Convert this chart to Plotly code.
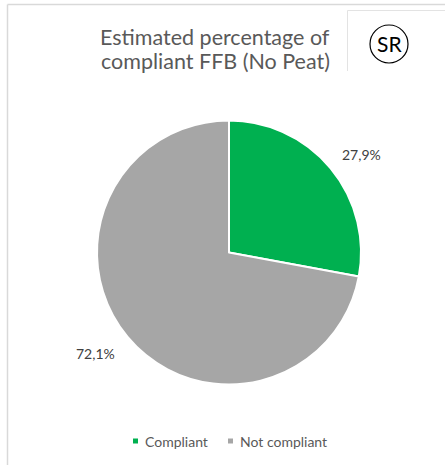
import plotly.graph_objects as go

categories = ["Compliant", "Not compliant"]
values = [27.9, 72.1]
colors = ["#00B050", "#A6A6A6"]
title_lines = ["Estimated percentage of", "compliant FFB (No Peat)"]
badge = "SR"

W, H = 445, 465
FONT = "Lato, Open Sans, sans-serif"

def px(x):
    return x / W

def py(y):
    return 1 - y / H

fig = go.Figure()
fig.add_trace(go.Pie(
    labels=categories,
    values=values,
    sort=False,
    direction="clockwise",
    rotation=0,
    marker=dict(colors=colors, line=dict(color="white", width=2)),
    textinfo="none",
    hoverinfo="label+percent",
    showlegend=False,
    domain=dict(x=[px(97), px(361)], y=[py(385), py(120)]),
))

annotations = []
# data labels
labels_pos = [(361, 155), (95, 353)]
for v, (x, y) in zip(values, labels_pos):
    annotations.append(dict(
        x=px(x), y=py(y), xref="paper", yref="paper",
        text=f"{v:.1f}%".replace(".", ","), showarrow=False,
        font=dict(size=14, color="#404040", family=FONT),
        xanchor="center", yanchor="middle"))

# title
for line, y in zip(title_lines, [36.5, 61]):
    annotations.append(dict(
        x=px(331), y=py(y), xref="paper", yref="paper",
        text=line, showarrow=False, align="right",
        xanchor="right", yanchor="middle", borderpad=0,
        font=dict(size=21.5, color="#595959", family=FONT)))

# badge
annotations.append(dict(
    x=px(389), y=py(44), xref="paper", yref="paper",
    text=badge, showarrow=False, xanchor="center", yanchor="middle",
    font=dict(size=21, color="#000000", family=FONT)))

shapes = [
    dict(type="line", xref="paper", yref="paper", x0=px(7.5), y0=py(465), x1=px(7.5), y1=py(4.5),
         line=dict(color="#D9D9D9", width=1.5)),
    dict(type="line", xref="paper", yref="paper", x0=px(7.5), y0=py(4.5), x1=px(445), y1=py(4.5),
         line=dict(color="#D9D9D9", width=1.5)),
    dict(type="line", xref="paper", yref="paper", x0=px(347.5), y0=py(10.5), x1=px(347.5), y1=py(71),
         line=dict(color="#E3E3E3", width=1)),
    dict(type="line", xref="paper", yref="paper", x0=px(347.5), y0=py(10.5), x1=px(445), y1=py(10.5),
         line=dict(color="#E3E3E3", width=1)),
    dict(type="circle", xref="paper", yref="paper", x0=px(370), y0=py(63), x1=px(408), y1=py(25),
         line=dict(color="#000000", width=1.2)),
]

# legend (swatches + labels)
legend_x = [133, 228]
for cat, col, x in zip(categories, colors, legend_x):
    shapes.append(dict(type="rect", xref="paper", yref="paper",
                       x0=px(x), x1=px(x + 5), y0=py(443.5), y1=py(438.5),
                       fillcolor=col, line=dict(width=0)))
    annotations.append(dict(
        x=px(x + 10), y=py(441), xref="paper", yref="paper",
        text=cat, showarrow=False, xanchor="left", yanchor="middle",
        font=dict(size=14, color="#595959", family=FONT)))

fig.update_layout(
    width=W, height=H,
    margin=dict(l=0, r=0, t=0, b=0),
    paper_bgcolor="white", plot_bgcolor="white",
    showlegend=False,
    annotations=annotations,
    shapes=shapes,
)

fig.write_html("out.html", config={"displayModeBar": False},
               post_script="document.body.style.margin='0';")
